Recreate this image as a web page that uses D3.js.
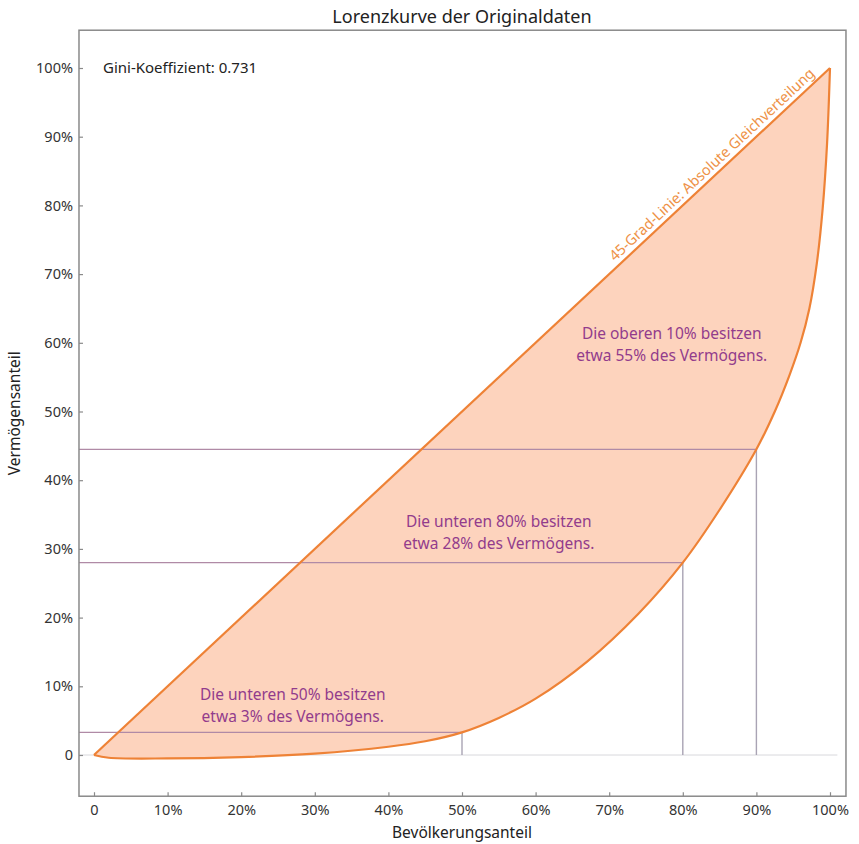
<!DOCTYPE html>
<html><head><meta charset="utf-8">
<script src="https://cdn.jsdelivr.net/npm/d3@7"></script>
<style>body{margin:0;background:#fff}svg{display:block}text{font-family:"Noto Sans",sans-serif}</style>
</head><body><svg id="c" width="859" height="844"></svg>
<script>
// Lorenz curve points (population share, wealth share)
const popShare   = [0, 0.02, 0.1, 0.2, 0.3, 0.4, 0.45, 0.5, 0.55, 0.6, 0.67, 0.74, 0.8, 0.85, 0.9, 0.925, 0.945, 0.96, 0.972, 0.982, 0.99, 0.996, 1.0];
const wealthShare= [0, -0.004, -0.005, -0.003, 0.002, 0.012, 0.02, 0.033, 0.054, 0.082, 0.136, 0.206, 0.28, 0.357, 0.445, 0.5, 0.553, 0.6, 0.65, 0.715, 0.795, 0.89, 1.0];
// Reference markers
const markerX = [0.5, 0.8, 0.9];
const markerY = [0.033, 0.28, 0.445];
const tickValues = [0, 0.1, 0.2, 0.3, 0.4, 0.5, 0.6, 0.7, 0.8, 0.9, 1.0];
const tickLabels = ["0","10%","20%","30%","40%","50%","60%","70%","80%","90%","100%"];
const annotations = [
  {lines:["Die oberen 10% besitzen","etwa 55% des Vermögens."], x:0.785, y:0.605},
  {lines:["Die unteren 80% besitzen","etwa 28% des Vermögens."], x:0.55, y:0.332},
  {lines:["Die unteren 50% besitzen","etwa 3% des Vermögens."], x:0.27, y:0.080}
];
const giniText = "Gini-Koeffizient: 0.731";

const svg = d3.select("#c");
const x = d3.scaleLinear().domain([0,1]).range([94,830]);
const y = d3.scaleLinear().domain([0,1]).range([755,68]);
const fx0 = x(-0.0204), fx1 = x(1.0217), fy0 = y(1.055), fy1 = y(-0.06);

const pts = popShare.map((p,i)=>[p, wealthShare[i]]);
const curveGen = d3.line().x(d=>x(d[0])).y(d=>y(d[1])).curve(d3.curveCatmullRom.alpha(0.5));

// zero line
svg.append("line").attr("x1",fx0).attr("x2",x(1.01)).attr("y1",y(0)).attr("y2",y(0))
  .attr("stroke","#d8d8dc").attr("stroke-width",1);

// fill between diagonal and curve
const fillPath = curveGen(pts) + "L" + x(0) + "," + y(0) + "Z";
svg.append("path").attr("d",fillPath).attr("fill","#fdd3bd").attr("stroke","none");

// reference lines
markerX.forEach((mx,i)=>{
  svg.append("line").attr("x1",fx0).attr("x2",x(mx)).attr("y1",y(markerY[i])).attr("y2",y(markerY[i]))
    .attr("stroke","#b08aa6").attr("stroke-width",1.2);
  svg.append("line").attr("x1",x(mx)).attr("x2",x(mx)).attr("y1",y(markerY[i])).attr("y2",y(0))
    .attr("stroke","#a9a4b4").attr("stroke-width",1.4);
});

// diagonal and curve
svg.append("line").attr("x1",x(0)).attr("y1",y(0)).attr("x2",x(1)).attr("y2",y(1))
  .attr("stroke","#ee8236").attr("stroke-width",2.2);
svg.append("path").attr("d",curveGen(pts)).attr("fill","none")
  .attr("stroke","#ee8236").attr("stroke-width",2.2).attr("stroke-linejoin","round");

// frame
svg.append("rect").attr("x",fx0).attr("y",fy0).attr("width",fx1-fx0).attr("height",fy1-fy0)
  .attr("fill","none").attr("stroke","#8a8a8a").attr("stroke-width",1.5);

// axes
const xAxis = d3.axisBottom(x).tickValues(tickValues).tickFormat((d,i)=>tickLabels[i]).tickSizeInner(-4).tickSizeOuter(0).tickPadding(8);
const gx = svg.append("g").attr("transform",`translate(0,${fy1})`).call(xAxis);
const yAxis = d3.axisLeft(y).tickValues(tickValues).tickFormat((d,i)=>tickLabels[i]).tickSizeInner(-4).tickSizeOuter(0).tickPadding(6);
const gy = svg.append("g").attr("transform",`translate(${fx0},0)`).call(yAxis);
[gx,gy].forEach(g=>{
  g.select(".domain").remove();
  g.selectAll(".tick line").attr("stroke","#8a8a8a").attr("stroke-width",1.2);
  g.selectAll(".tick text").attr("fill","#333").style("font-size","14.5px").style("font-family","'Noto Sans',sans-serif");
});

// titles
svg.append("text").attr("x",462).attr("y",23).attr("text-anchor","middle")
  .attr("fill","#222").style("font-size","18px").text("Lorenzkurve der Originaldaten");
svg.append("text").attr("x",462).attr("y",838).attr("text-anchor","middle")
  .attr("fill","#222").style("font-size","15.5px").text("Bevölkerungsanteil");
svg.append("text").attr("transform",`translate(20,${(fy0+fy1)/2}) rotate(-90)`).attr("text-anchor","middle")
  .attr("fill","#222").style("font-size","15.5px").text("Vermögensanteil");
svg.append("text").attr("x",103).attr("y",73).attr("fill","#222").style("font-size","15px").text(giniText);

// 45 degree label
const ang = Math.atan2(y(0)-y(1), x(1)-x(0))*180/Math.PI;
svg.append("text").attr("transform",`translate(${x(0.985)},${y(0.985)}) rotate(${-ang}) translate(0,-5)`)
  .attr("text-anchor","end").attr("fill","#ee9248").style("font-size","14.5px")
  .text("45-Grad-Linie: Absolute Gleichverteilung");

// annotations
annotations.forEach(a=>{
  const t = svg.append("text").attr("text-anchor","middle").attr("fill","#923c8c").style("font-size","15.5px");
  a.lines.forEach((l,i)=>t.append("tspan").attr("x",x(a.x)).attr("y",y(a.y)+i*22).text(l));
});
</script></body></html>
